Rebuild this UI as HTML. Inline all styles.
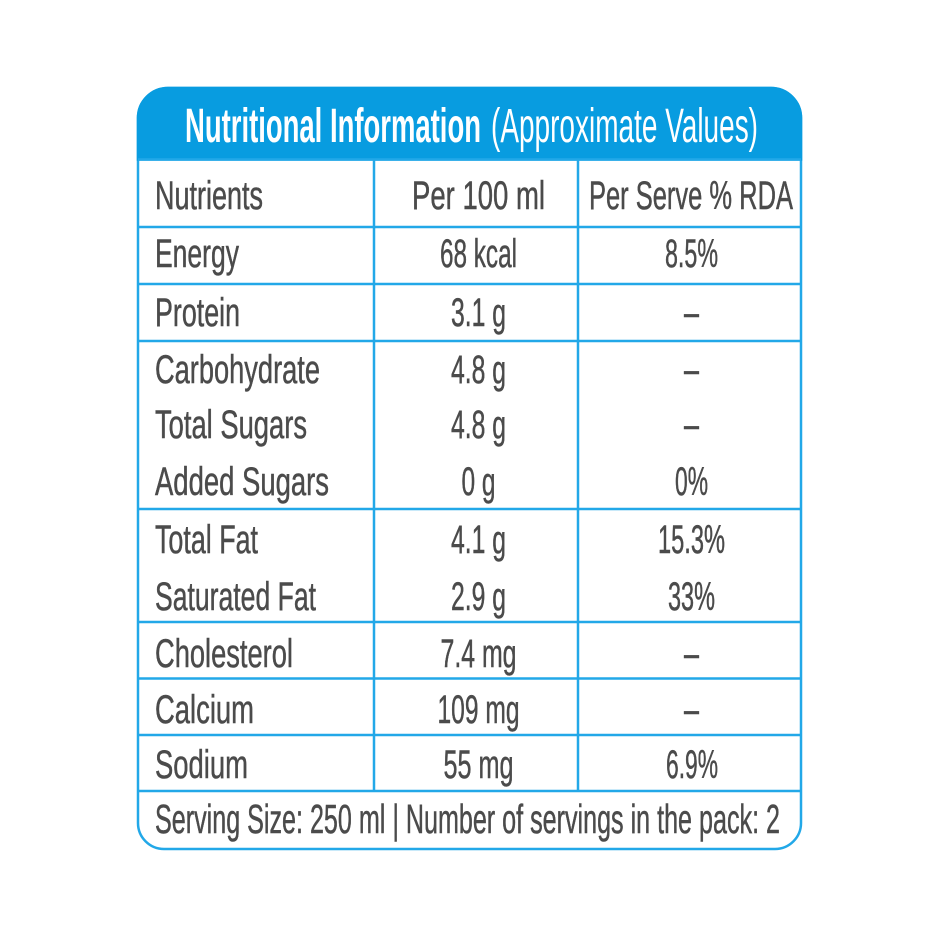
<!DOCTYPE html>
<html>
<head>
<meta charset="utf-8">
<style>
html,body{margin:0;padding:0;background:#fff;}
svg{display:block;}
.t{font-family:"Liberation Sans Narrow","Liberation Sans",Arial,sans-serif;font-size:40px;fill:#4b4b4b;stroke:#4b4b4b;stroke-width:0.5;}
.h{font-family:"Liberation Sans Narrow","Liberation Sans",Arial,sans-serif;font-size:48px;fill:#fff;}
</style>
</head>
<body>
<svg width="940" height="940" viewBox="0 0 940 940" xmlns="http://www.w3.org/2000/svg">
  <rect x="0" y="0" width="940" height="940" fill="#fff"/>
  <!-- outer box -->
  <path d="M138,118 A30,30 0 0 1 168,88 L771,88 A30,30 0 0 1 801,118 L801,823 A26,26 0 0 1 775,849 L164,849 A26,26 0 0 1 138,823 Z" fill="#fff" stroke="#22a8e8" stroke-width="2.5"/>
  <!-- header fill -->
  <path d="M138,118 A30,30 0 0 1 168,88 L771,88 A30,30 0 0 1 801,118 L801,159.5 L138,159.5 Z" fill="#089ce0" stroke="#089ce0" stroke-width="2.5"/>

  <!-- horizontal lines -->
  <g stroke="#22a8e8" stroke-width="2.5">
    <line x1="138" y1="159.5" x2="801" y2="159.5"/>
    <line x1="138" y1="227" x2="801" y2="227"/>
    <line x1="138" y1="284" x2="801" y2="284"/>
    <line x1="138" y1="341" x2="801" y2="341"/>
    <line x1="138" y1="509" x2="801" y2="509"/>
    <line x1="138" y1="622" x2="801" y2="622"/>
    <line x1="138" y1="678.5" x2="801" y2="678.5"/>
    <line x1="138" y1="735" x2="801" y2="735"/>
    <line x1="138" y1="791" x2="801" y2="791"/>
    <line x1="374" y1="159.5" x2="374" y2="791"/>
    <line x1="578" y1="159.5" x2="578" y2="791"/>
  </g>

  <!-- header title -->
  <text class="h" x="185" y="142" font-weight="bold" textLength="296" lengthAdjust="spacingAndGlyphs">Nutritional Information</text>
  <text class="h" x="491" y="142" textLength="267" lengthAdjust="spacingAndGlyphs">(Approximate Values)</text>

  <!-- column 1 -->
  <g class="t">
    <text x="155" y="209" textLength="108" lengthAdjust="spacingAndGlyphs">Nutrients</text>
    <text x="155" y="267" textLength="84" lengthAdjust="spacingAndGlyphs">Energy</text>
    <text x="155" y="326" textLength="85" lengthAdjust="spacingAndGlyphs">Protein</text>
    <text x="155" y="383" textLength="165" lengthAdjust="spacingAndGlyphs">Carbohydrate</text>
    <text x="155" y="438" textLength="152" lengthAdjust="spacingAndGlyphs">Total Sugars</text>
    <text x="155" y="495" textLength="174" lengthAdjust="spacingAndGlyphs">Added Sugars</text>
    <text x="155" y="553" textLength="103" lengthAdjust="spacingAndGlyphs">Total Fat</text>
    <text x="155" y="610" textLength="161" lengthAdjust="spacingAndGlyphs">Saturated Fat</text>
    <text x="155" y="667" textLength="138" lengthAdjust="spacingAndGlyphs">Cholesterol</text>
    <text x="155" y="723" textLength="99" lengthAdjust="spacingAndGlyphs">Calcium</text>
    <text x="155" y="778" textLength="93" lengthAdjust="spacingAndGlyphs">Sodium</text>
  </g>

  <!-- column 2 -->
  <g class="t" text-anchor="middle">
    <text x="478.5" y="209" textLength="133" lengthAdjust="spacingAndGlyphs">Per 100 ml</text>
    <text x="478.5" y="267" textLength="77" lengthAdjust="spacingAndGlyphs">68 kcal</text>
    <text x="478.5" y="326" textLength="55" lengthAdjust="spacingAndGlyphs">3.1 g</text>
    <text x="478.5" y="383" textLength="55" lengthAdjust="spacingAndGlyphs">4.8 g</text>
    <text x="478.5" y="438" textLength="55" lengthAdjust="spacingAndGlyphs">4.8 g</text>
    <text x="478.5" y="495" textLength="34" lengthAdjust="spacingAndGlyphs">0 g</text>
    <text x="478.5" y="553" textLength="55" lengthAdjust="spacingAndGlyphs">4.1 g</text>
    <text x="478.5" y="610" textLength="55" lengthAdjust="spacingAndGlyphs">2.9 g</text>
    <text x="478.5" y="667" textLength="76" lengthAdjust="spacingAndGlyphs">7.4 mg</text>
    <text x="478.5" y="723" textLength="82" lengthAdjust="spacingAndGlyphs">109 mg</text>
    <text x="478.5" y="778" textLength="70" lengthAdjust="spacingAndGlyphs">55 mg</text>
  </g>

  <!-- column 3 -->
  <g class="t" text-anchor="middle">
    <text x="691" y="209" textLength="204" lengthAdjust="spacingAndGlyphs">Per Serve % RDA</text>
    <text x="691.5" y="267" textLength="53" lengthAdjust="spacingAndGlyphs">8.5%</text>
    <text x="691.5" y="326" textLength="15" lengthAdjust="spacingAndGlyphs">–</text>
    <text x="691.5" y="383" textLength="15" lengthAdjust="spacingAndGlyphs">–</text>
    <text x="691.5" y="438" textLength="15" lengthAdjust="spacingAndGlyphs">–</text>
    <text x="691.5" y="495" textLength="33" lengthAdjust="spacingAndGlyphs">0%</text>
    <text x="691.5" y="553" textLength="67" lengthAdjust="spacingAndGlyphs">15.3%</text>
    <text x="691.5" y="610" textLength="47" lengthAdjust="spacingAndGlyphs">33%</text>
    <text x="691.5" y="667" textLength="15" lengthAdjust="spacingAndGlyphs">–</text>
    <text x="691.5" y="723" textLength="15" lengthAdjust="spacingAndGlyphs">–</text>
    <text x="692" y="778" textLength="52" lengthAdjust="spacingAndGlyphs">6.9%</text>
  </g>

  <!-- footer -->
  <text class="t" x="155" y="833" style="font-size:41px" textLength="625" lengthAdjust="spacingAndGlyphs">Serving Size: 250 ml | Number of servings in the pack: 2</text>
</svg>
</body>
</html>
